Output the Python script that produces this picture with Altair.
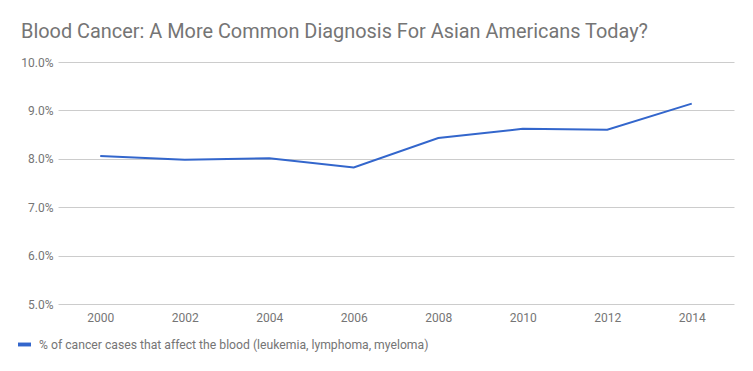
import altair as alt
import pandas as pd

years = ["2000", "2002", "2004", "2006", "2008", "2010", "2012", "2014"]
values = [8.06, 7.98, 8.01, 7.82, 8.43, 8.62, 8.60, 9.14]
series_name = "% of cancer cases that affect the blood (leukemia, lymphoma, myeloma)"
y_ticks = [5, 6, 7, 8, 9, 10]

df = pd.DataFrame({
    "year": years,
    "pct": [v / 100 for v in values],
    "series": [series_name] * len(years),
})

chart = alt.Chart(df).mark_line(strokeWidth=2).encode(
    x=alt.X("year:O", title=None,
            axis=alt.Axis(labelAngle=0, ticks=False, domain=False, grid=False,
                          labelPadding=8, labelFontSize=12, labelColor="#757575",
                          labelFont="Roboto")),
    y=alt.Y("pct:Q", title=None,
            scale=alt.Scale(domain=[0.05, 0.10], nice=False, zero=False),
            axis=alt.Axis(format=".1%", values=[t / 100 for t in y_ticks],
                          ticks=False, domain=False, gridColor="#cccccc",
                          labelPadding=5, labelFontSize=12, labelColor="#757575",
                          labelFont="Roboto")),
    color=alt.Color("series:N", scale=alt.Scale(range=["#3366cc"]),
                    legend=alt.Legend(title=None, orient="none", legendX=-40, legendY=276,
                                      symbolType="M-1,-0.3H1V0.3H-1Z", symbolSize=169,
                                      symbolFillColor="#3366cc", symbolStrokeWidth=0,
                                      labelOffset=8, labelFontSize=12.2,
                                      labelColor="#757575", labelFont="Roboto",
                                      labelLimit=600)),
).properties(
    width=676,
    height=242,
    title=alt.TitleParams(
        text="Blood Cancer: A More Common Diagnosis For Asian Americans Today?",
        anchor="start", frame="group", dx=-37, dy=24, offset=22, fontSize=19.9, font="Roboto",
        fontWeight="normal", color="#757575", baseline="alphabetic",
    ),
    padding={"left": 50, "top": 54, "right": 11, "bottom": 59},
    autosize=alt.AutoSizeParams(type="none"),
).configure_view(stroke=None)

chart.save("out.html", embed_options={"renderer": "svg", "actions": False})
